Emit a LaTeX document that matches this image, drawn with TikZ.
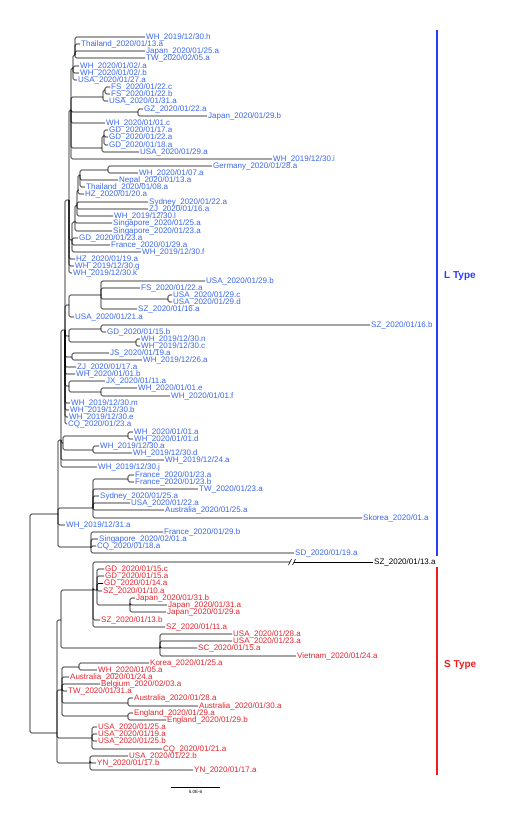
\documentclass[tikz,border=0pt]{standalone}
\usepackage{fontspec}
\setmainfont{Liberation Sans}
\usetikzlibrary{positioning}

\definecolor{ltype}{RGB}{58,102,236}
\definecolor{stype}{RGB}{228,36,46}
\definecolor{lbar}{RGB}{40,60,245}
\definecolor{sbar}{RGB}{235,30,30}

% style, parent, x, y, name, text
\newcommand\leaf[6]{%
  \node[#1] (#5) at (#3,#4) {#6};
  \draw[br] (#2) |- (#5.west);}

\begin{document}
\begin{tikzpicture}[
  x=1pt, y=-1pt,
  br/.style={line width=0.65pt, draw=black, rounded corners=1.5pt},
  lt/.style={text=ltype, anchor=west, inner sep=1pt, font=\fontsize{8}{8}\selectfont},
  st/.style={lt, text=stype},
  bt/.style={lt, text=black},
  typebar/.style={line width=1.2pt},
  tag/.style={anchor=west, inner sep=0pt, font=\bfseries\fontsize{10}{10}\selectfont}
]
\useasboundingbox (0,0) rectangle (528,814);

% internal nodes, L type
\coordinate (T1) at (75,55);
\coordinate (T2) at (73,68);
\coordinate (Nfs) at (105,90);
\coordinate (Nf2) at (103,97);
\coordinate (Ngz) at (138,112);
\coordinate (T3) at (71,110);
\coordinate (Ngd) at (104,136);
\coordinate (Ngd2) at (102,148);
\coordinate (Nger) at (108,170);
\coordinate (Ne1) at (80,175);
\coordinate (Ne2) at (78,190);
\coordinate (Ne3) at (77,205);
\coordinate (Ne4) at (75,222);
\coordinate (Ne5) at (72,240);
\coordinate (T4) at (69,200);
\coordinate (Nusc) at (168,299);
\coordinate (Nus) at (101,295);
\coordinate (N3) at (69,305);
\coordinate (Nsz) at (101,329);
\coordinate (Nwn) at (136,342);
\coordinate (N4) at (69,336);
\coordinate (Njs) at (72,357);
\coordinate (Nwe) at (101,392);
\coordinate (N5) at (69,386);
\coordinate (T5) at (65,330);
\coordinate (Nwa) at (128,436);
\coordinate (Nwd) at (93,450);
\coordinate (N6) at (63,443);
\coordinate (T6) at (61,440);
\coordinate (Nfr) at (128,479);
\coordinate (Lq) at (93,508);
\coordinate (Lr) at (91,547);
\coordinate (Lm) at (58,514);

% internal nodes, S type
\coordinate (Njp) at (130,605);
\coordinate (Sgd) at (97,590);
\coordinate (Sa) at (93,590);
\coordinate (Sus) at (160,648);
\coordinate (Sb) at (61,620);
\coordinate (Skor) at (79,667);
\coordinate (Saus) at (128,703);
\coordinate (Seng) at (128,716);
\coordinate (Sc) at (62,690);
\coordinate (Susa) at (92,738);
\coordinate (Syn) at (90,763);
\coordinate (Sm) at (57,733);
\coordinate (root) at (30,620);

% inner branches
\draw[br] (T2) |- (T1);
\draw[br] (Nf2) |- (Nfs);
\draw[br] (T3) |- (T2);
\draw[br] (T3) |- (Nf2);
\draw[br] (T3) |- (Ngz);
\draw[br] (Ngd2) |- (Ngd);
\draw[br] (T3) |- (Ngd2);
\draw[br] (Ne1) |- (Nger);
\draw[br] (Ne2) |- (Ne1);
\draw[br] (Ne3) |- (Ne2);
\draw[br] (Ne4) |- (Ne3);
\draw[br] (Ne5) |- (Ne4);
\draw[br] (T4) |- (T3);
\draw[br] (T4) |- (Ne5);
\draw[br] (Nus) |- (Nusc);
\draw[br] (N3) |- (Nus);
\draw[br] (N4) |- (Nsz);
\draw[br] (N4) |- (Nwn);
\draw[br] (N5) |- (Nwe);
\draw[br] (T5) |- (T4);
\draw[br] (T5) |- (N3);
\draw[br] (T5) |- (N4);
\draw[br] (T5) |- (Njs);
\draw[br] (T5) |- (N5);
\draw[br] (N6) |- (Nwa);
\draw[br] (N6) |- (Nwd);
\draw[br] (T6) |- (T5);
\draw[br] (T6) |- (N6);
\draw[br] (Lq) |- (Nfr);
\draw[br] (Lm) |- (T6);
\draw[br] (Lm) |- (Lq);
\draw[br] (Lm) |- (Lr);
\draw[br] (Sgd) |- (Njp);
\draw[br] (Sa) |- (Sgd);
\draw[br] (Sb) |- (Sa);
\draw[br] (Sb) |- (Sus);
\draw[br] (Sc) |- (Skor);
\draw[br] (Sc) |- (Saus);
\draw[br] (Sc) |- (Seng);
\draw[br] (Sm) |- (Sb);
\draw[br] (Sm) |- (Sc);
\draw[br] (Sm) |- (Susa);
\draw[br] (Sm) |- (Syn);
\draw[br] (root) |- (Lm);
\draw[br] (root) |- (Sm);

% L type tips
\leaf{lt}{T1}{145}{37}{l1}{WH\_2019/12/30.h}
\leaf{lt}{T1}{80}{44}{l2}{Thailand\_2020/01/13.a}
\leaf{lt}{T1}{145}{51}{l3}{Japan\_2020/01/25.a}
\leaf{lt}{T1}{145}{58}{l4}{TW\_2020/02/05.a}
\leaf{lt}{T2}{79}{66}{l5}{WH\_2020/01/02/.a}
\leaf{lt}{T2}{79}{73}{l6}{WH\_2020/01/02/.b}
\leaf{lt}{T2}{77}{80}{l7}{USA\_2020/01/27.a}
\leaf{lt}{Nfs}{110}{87}{l8}{FS\_2020/01/22.c}
\leaf{lt}{Nfs}{110}{94}{l9}{FS\_2020/01/22.b}
\leaf{lt}{Nf2}{108}{101}{l10}{USA\_2020/01/31.a}
\leaf{lt}{Ngz}{143}{109}{l11}{GZ\_2020/01/22.a}
\leaf{lt}{Ngz}{207}{116}{l12}{Japan\_2020/01/29.b}
\leaf{lt}{T3}{105}{123}{l13}{WH\_2020/01/01.c}
\leaf{lt}{Ngd}{108}{130}{l14}{GD\_2020/01/17.a}
\leaf{lt}{Ngd}{108}{137}{l15}{GD\_2020/01/22.a}
\leaf{lt}{Ngd}{108}{145}{l16}{GD\_2020/01/18.a}
\leaf{lt}{Ngd2}{139}{152}{l17}{USA\_2020/01/29.a}
\leaf{lt}{T3}{272}{159}{l18}{WH\_2019/12/30.i}
\leaf{lt}{Nger}{212}{166}{l19}{Germany\_2020/01/28.a}
\leaf{lt}{Nger}{138}{173}{l20}{WH\_2020/01/07.a}
\leaf{lt}{Ne1}{118}{180}{l21}{Nepal\_2020/01/13.a}
\leaf{lt}{Ne1}{85}{187}{l22}{Thailand\_2020/01/08.a}
\leaf{lt}{Ne2}{84}{194}{l23}{HZ\_2020/01/20.a}
\leaf{lt}{Ne3}{148}{202}{l24}{Sydney\_2020/01/22.a}
\leaf{lt}{Ne3}{148}{209}{l25}{ZJ\_2020/01/16.a}
\leaf{lt}{Ne3}{113}{216}{l26}{WH\_2019/12/30.l}
\leaf{lt}{Ne4}{112}{223}{l27}{Singapore\_2020/01/25.a}
\leaf{lt}{Ne4}{112}{231}{l28}{Singapore\_2020/01/23.a}
\leaf{lt}{Ne5}{78}{238}{l29}{GD\_2020/01/23.a}
\leaf{lt}{Ne5}{110}{245}{l30}{France\_2020/01/29.a}
\leaf{lt}{Ne5}{141}{252}{l31}{WH\_2019/12/30.f}
\leaf{lt}{T4}{75}{259}{l32}{HZ\_2020/01/19.a}
\leaf{lt}{T4}{74}{266}{l33}{WH\_2019/12/30.g}
\leaf{lt}{T4}{72}{273}{l34}{WH\_2019/12/30.k}
\leaf{lt}{Nus}{205}{281}{l35}{USA\_2020/01/29.b}
\leaf{lt}{Nus}{140}{288}{l36}{FS\_2020/01/22.a}
\leaf{lt}{Nusc}{172}{295}{l37}{USA\_2020/01/29.c}
\leaf{lt}{Nusc}{172}{302}{l38}{USA\_2020/01/29.d}
\leaf{lt}{Nus}{137}{309}{l39}{SZ\_2020/01/16.a}
\leaf{lt}{N3}{74}{317}{l40}{USA\_2020/01/21.a}
\leaf{lt}{Nsz}{370}{325}{l41}{SZ\_2020/01/16.b}
\leaf{lt}{Nsz}{106}{332}{l42}{GD\_2020/01/15.b}
\leaf{lt}{Nwn}{140}{339}{l43}{WH\_2019/12/30.n}
\leaf{lt}{Nwn}{140}{346}{l44}{WH\_2019/12/30.c}
\leaf{lt}{Njs}{109}{353}{l45}{JS\_2020/01/19.a}
\leaf{lt}{Njs}{142}{360}{l46}{WH\_2019/12/26.a}
\leaf{lt}{T5}{76}{367}{l47}{ZJ\_2020/01/17.a}
\leaf{lt}{T5}{75}{374}{l48}{WH\_2020/01/01.b}
\leaf{lt}{N5}{105}{381}{l49}{JX\_2020/01/11.a}
\leaf{lt}{Nwe}{137}{388}{l50}{WH\_2020/01/01.e}
\leaf{lt}{Nwe}{170}{396}{l51}{WH\_2020/01/01.f}
\leaf{lt}{T5}{70}{403}{l52}{WH\_2019/12/30.m}
\leaf{lt}{T5}{69}{410}{l53}{WH\_2019/12/30.b}
\leaf{lt}{T5}{68}{417}{l54}{WH\_2019/12/30.e}
\leaf{lt}{T5}{67}{424}{l55}{CQ\_2020/01/23.a}
\leaf{lt}{Nwa}{133}{432}{l56}{WH\_2020/01/01.a}
\leaf{lt}{Nwa}{133}{439}{l57}{WH\_2020/01/01.d}
\leaf{lt}{Nwd}{99}{446}{l58}{WH\_2019/12/30.a}
\leaf{lt}{Nwd}{132}{453}{l59}{WH\_2019/12/30.d}
\leaf{lt}{T6}{164}{460}{l60}{WH\_2019/12/24.a}
\leaf{lt}{T6}{97}{467}{l61}{WH\_2019/12/30.j}
\leaf{lt}{Nfr}{134}{475}{l62}{France\_2020/01/23.a}
\leaf{lt}{Nfr}{134}{482}{l63}{France\_2020/01/23.b}
\leaf{lt}{Lq}{198}{489}{l64}{TW\_2020/01/23.a}
\leaf{lt}{Lq}{99}{496}{l65}{Sydney\_2020/01/25.a}
\leaf{lt}{Lq}{130}{503}{l66}{USA\_2020/01/22.a}
\leaf{lt}{Lq}{164}{510}{l67}{Australia\_2020/01/25.a}
\leaf{lt}{Lq}{362}{518}{l68}{Skorea\_2020/01.a}
\leaf{lt}{Lm}{65}{525}{l69}{WH\_2019/12/31.a}
\leaf{lt}{Lr}{163}{532}{l70}{France\_2020/01/29.b}
\leaf{lt}{Lr}{98}{539}{l71}{Singapore\_2020/02/01.a}
\leaf{lt}{Lr}{96}{546}{l72}{CQ\_2020/01/18.a}
\leaf{lt}{Lr}{294}{553}{l73}{SD\_2020/01/19.a}

% long branch with a break
\coordinate (cut) at (292,562);
\node[bt] (s1) at (373,562) {SZ\_2020/01/13.a};
\draw[br] (Sa) |- ([xshift=-2]cut);
\draw[br, rounded corners=0pt] ([xshift=2]cut) -- (s1.west);
\draw[line width=0.6pt] ([shift={(-3.5,3)}]cut) -- ([shift={(-0.5,-3)}]cut);
\draw[line width=0.6pt] ([shift={(0.5,3)}]cut) -- ([shift={(3.5,-3)}]cut);

% S type tips
\leaf{st}{Sgd}{104}{569}{s2}{GD\_2020/01/15.c}
\leaf{st}{Sgd}{104}{576}{s3}{GD\_2020/01/15.a}
\leaf{st}{Sgd}{103}{583.5}{s4}{GD\_2020/01/14.a}
\leaf{st}{Sgd}{102}{591}{s5}{SZ\_2020/01/10.a}
\leaf{st}{Njp}{135}{598}{s6}{Japan\_2020/01/31.b}
\leaf{st}{Njp}{167}{605}{s7}{Japan\_2020/01/31.a}
\leaf{st}{Njp}{166}{612}{s8}{Japan\_2020/01/29.a}
\leaf{st}{Sa}{100}{620}{s9}{SZ\_2020/01/13.b}
\leaf{st}{Sa}{165}{627}{s10}{SZ\_2020/01/11.a}
\leaf{st}{Sus}{232}{634}{s11}{USA\_2020/01/28.a}
\leaf{st}{Sus}{232}{641}{s12}{USA\_2020/01/23.a}
\leaf{st}{Sus}{197}{648}{s13}{SC\_2020/01/15.a}
\leaf{st}{Sus}{296}{656}{s14}{Vietnam\_2020/01/24.a}
\leaf{st}{Skor}{149}{663}{s15}{Korea\_2020/01/25.a}
\leaf{st}{Skor}{97}{670}{s16}{WH\_2020/01/05.a}
\leaf{st}{Sc}{69}{677}{s17}{Australia\_2020/01/24.a}
\leaf{st}{Sc}{100}{684}{s18}{Belgium\_2020/02/03.a}
\leaf{st}{Sc}{67}{691}{s19}{TW\_2020/01/31.a}
\leaf{st}{Saus}{133}{698}{s20}{Australia\_2020/01/28.a}
\leaf{st}{Saus}{198}{706}{s21}{Australia\_2020/01/30.a}
\leaf{st}{Seng}{133}{713}{s22}{England\_2020/01/29.a}
\leaf{st}{Seng}{166}{720}{s23}{England\_2020/01/29.b}
\leaf{st}{Susa}{97}{727}{s24}{USA\_2020/01/25.a}
\leaf{st}{Susa}{97}{734}{s25}{USA\_2020/01/19.a}
\leaf{st}{Susa}{97}{741}{s26}{USA\_2020/01/25.b}
\leaf{st}{Susa}{162}{749}{s27}{CQ\_2020/01/21.a}
\leaf{st}{Syn}{128}{756}{s28}{USA\_2020/01/22.b}
\leaf{st}{Syn}{96}{763}{s29}{YN\_2020/01/17.b}
\leaf{st}{Syn}{193}{770}{s30}{YN\_2020/01/17.a}

% type bars
\coordinate (ltop) at (437,30);
\coordinate (lbot) at (437,556);
\coordinate (stop) at (437,567);
\coordinate (sbot) at (437,775);
\draw[typebar, lbar] (ltop) -- (lbot);
\draw[typebar, sbar] (stop) -- (sbot);
\node[tag, text=lbar] (ltag) at (444,276) {L Type};
\node[tag, text=sbar] (stag) at (444,665) {S Type};

% scale bar
\coordinate (sc1) at (171,787);
\coordinate (sc2) at (220,787);
\draw[line width=0.7pt] (sc1) -- (sc2) coordinate[midway] (scm);
\node[inner sep=0pt, below=3pt of scm, font=\fontsize{4.5}{5}\selectfont] (sclab) {5.0E-6};

\end{tikzpicture}
\end{document}
